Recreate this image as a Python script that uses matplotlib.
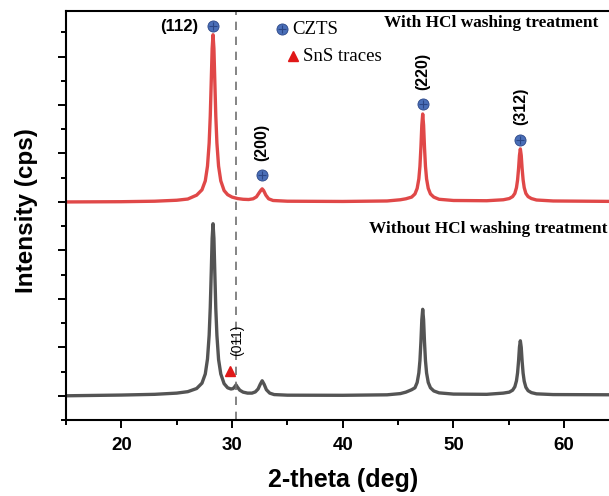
import matplotlib.pyplot as plt

# digitized XRD patterns (2-theta in deg, intensity in cps, each from its own baseline)
x_without = [15, 20, 23, 25, 26, 26.8, 27.28, 27.58, 27.78, 27.93, 28.03, 28.12, 28.2, 28.28,
             28.36, 28.44, 28.53, 28.63, 28.78, 28.98, 29.28, 29.6, 29.9, 30.1, 30.25, 30.36,
             30.48, 30.7, 31.0, 31.4, 31.8, 32.1, 32.35, 32.55, 32.72, 32.9, 33.1, 33.4, 33.8,
             35, 40, 44, 45.2, 45.7, 46.22, 46.52, 46.72, 46.87, 46.97, 47.06, 47.14, 47.22,
             47.30, 47.38, 47.47, 47.57, 47.72, 47.92, 48.22, 48.7, 50, 53, 54.2, 54.5, 55.04,
             55.34, 55.54, 55.69, 55.79, 55.88, 55.96, 56.04, 56.12, 56.20, 56.29, 56.39, 56.54,
             56.74, 57.04, 57.5, 59, 65]
y_without = [0, 30, 60, 110, 170, 300, 520, 900, 1520, 2500, 3650, 5100, 6500, 7100,
             6500, 5100, 3600, 2500, 1500, 900, 500, 330, 280, 300, 380, 450,
             360, 230, 150, 110, 110, 160, 280, 480, 620, 470, 250, 110, 50,
             25, 20, 40, 90, 150, 250, 330, 550, 940, 1450, 2240, 3140, 3570,
             3140, 2240, 1450, 940, 550, 330, 200, 120, 70, 60, 100, 110, 150,
             230, 370, 620, 950, 1440, 2010, 2270, 2000, 1430, 930, 600, 350,
             210, 130, 80, 50, 40]

x_with = [15, 20, 23, 25, 26, 26.8, 27.28, 27.58, 27.78, 27.93, 28.03, 28.12, 28.2, 28.28,
          28.36, 28.44, 28.53, 28.63, 28.78, 28.98, 29.28, 29.6, 30.0, 30.5, 31.0, 31.5, 31.9,
          32.2, 32.45, 32.6, 32.72, 32.85, 33.05, 33.3, 33.7, 35, 40, 44, 45.2, 45.7, 46.22,
          46.52, 46.72, 46.87, 46.97, 47.06, 47.14, 47.22, 47.30, 47.38, 47.47, 47.57, 47.72,
          47.92, 48.22, 48.7, 50, 53, 54.5, 55.04, 55.34, 55.54, 55.69, 55.79, 55.88, 55.96,
          56.04, 56.12, 56.20, 56.29, 56.39, 56.54, 56.74, 57.04, 57.5, 59, 65]
y_with = [0, 10, 30, 70, 120, 280, 500, 870, 1480, 2430, 3550, 4990, 6330, 6900,
          6330, 4990, 3550, 2430, 1480, 870, 470, 300, 200, 140, 110, 100, 130,
          210, 380, 480, 540, 470, 280, 130, 60, 30, 20, 40, 90, 130, 200,
          330, 560, 950, 1470, 2270, 3170, 3630, 3170, 2270, 1470, 950, 560,
          330, 200, 110, 60, 50, 90, 140, 220, 350, 590, 910, 1380, 1920,
          2190, 1920, 1380, 910, 590, 350, 220, 140, 80, 40, 20]

offset_with = 8000

# CZTS reflections (marker heights above the HCl-washed baseline)
czts_hkl = ['(112)', '(200)', '(220)', '(312)']
czts_pos = [28.28, 32.72, 47.22, 56.04]
czts_mark = [7260, 1110, 4040, 2570]

# SnS trace
sns_hkl = '(011)'
sns_pos = 29.78
sns_mark = 1040
ref_line = 30.4

red = '#e04848'
gray = '#545454'
blue = '#4a6fb8'
dblue = '#2b4686'

plt.rcParams['font.family'] = ['Liberation Sans', 'DejaVu Sans']

fig = plt.figure(figsize=(6.09, 4.96), dpi=100)
ax = fig.add_axes([0.1084, 0.1532, 0.9089, 0.8246])

ax.plot(x_without, y_without, color=gray, lw=2.4, solid_joinstyle='round')
ax.plot(x_with, [v + offset_with for v in y_with], color=red, lw=2.4, solid_joinstyle='round')
ax.axvline(ref_line, color='#707070', lw=1.2, ls=(0, (5, 4)))

def czts_marker(x, y):
    ax.plot(x, y, 'o', ms=8, color=blue, mec=dblue, mew=0.6)
    ax.plot(x, y, '+', ms=6, color=dblue, mew=0.8)

for lab, xp, ym in zip(czts_hkl, czts_pos, czts_mark):
    czts_marker(xp, ym + offset_with)
    if lab == '(112)':
        ax.text(xp - 1.35, ym + offset_with, lab, ha='right', va='center',
                fontsize=12, fontweight='bold')
    else:
        ax.text(xp, ym + offset_with + 600, lab, ha='center', va='bottom',
                rotation=90, fontsize=11.5, fontweight='bold')

ax.plot(sns_pos, sns_mark, '^', ms=7, color='#e01818')
ax.text(ref_line + 0.05, sns_mark + 600, sns_hkl, ha='center', va='bottom',
        rotation=90, fontsize=10)

# legend drawn by hand
czts_marker(34.5, 15130)
ax.text(35.4, 15130, 'CZTS', ha='left', va='center', fontsize=13.5, family='Liberation Serif')
ax.plot(35.47, 14020, '^', ms=7, color='#e01818')
ax.text(36.4, 14020, 'SnS traces', ha='left', va='center', fontsize=13.5, family='Liberation Serif')

ax.text(63.1, 15400, 'With HCl washing treatment', ha='right', va='center',
        fontsize=12.4, fontweight='bold', family='Liberation Serif')
ax.text(63.9, 6880, 'Without HCl washing treatment', ha='right', va='center',
        fontsize=12.4, fontweight='bold', family='Liberation Serif')

ax.set_xlim(15, 65)
ax.set_ylim(-1000, 15880)
ax.set_xticks([20, 30, 40, 50, 60])
ax.set_xticks([15, 25, 35, 45, 55, 65], minor=True)
ax.set_yticks(range(0, 16000, 2000))
ax.set_yticks(range(-1000, 16000, 2000), minor=True)
ax.set_yticklabels([])
ax.tick_params(which='major', length=6, width=1.4, direction='out')
ax.tick_params(which='minor', length=3.5, width=1.4, direction='out')
ax.tick_params(axis='x', labelsize=13.5, pad=6)
for t in ax.get_xticklabels():
    t.set_fontweight('bold')
for s in ax.spines.values():
    s.set_linewidth(1.5)
ax.spines['right'].set_visible(False)

ax.set_xlabel('2-theta (deg)', fontsize=18, fontweight='bold')
ax.set_ylabel('Intensity (cps)', fontsize=17.5, fontweight='bold')
ax.xaxis.set_label_coords(0.5, -0.117)
ax.yaxis.set_label_coords(-0.051, 0.513)

fig.savefig('out.png', dpi=100)
